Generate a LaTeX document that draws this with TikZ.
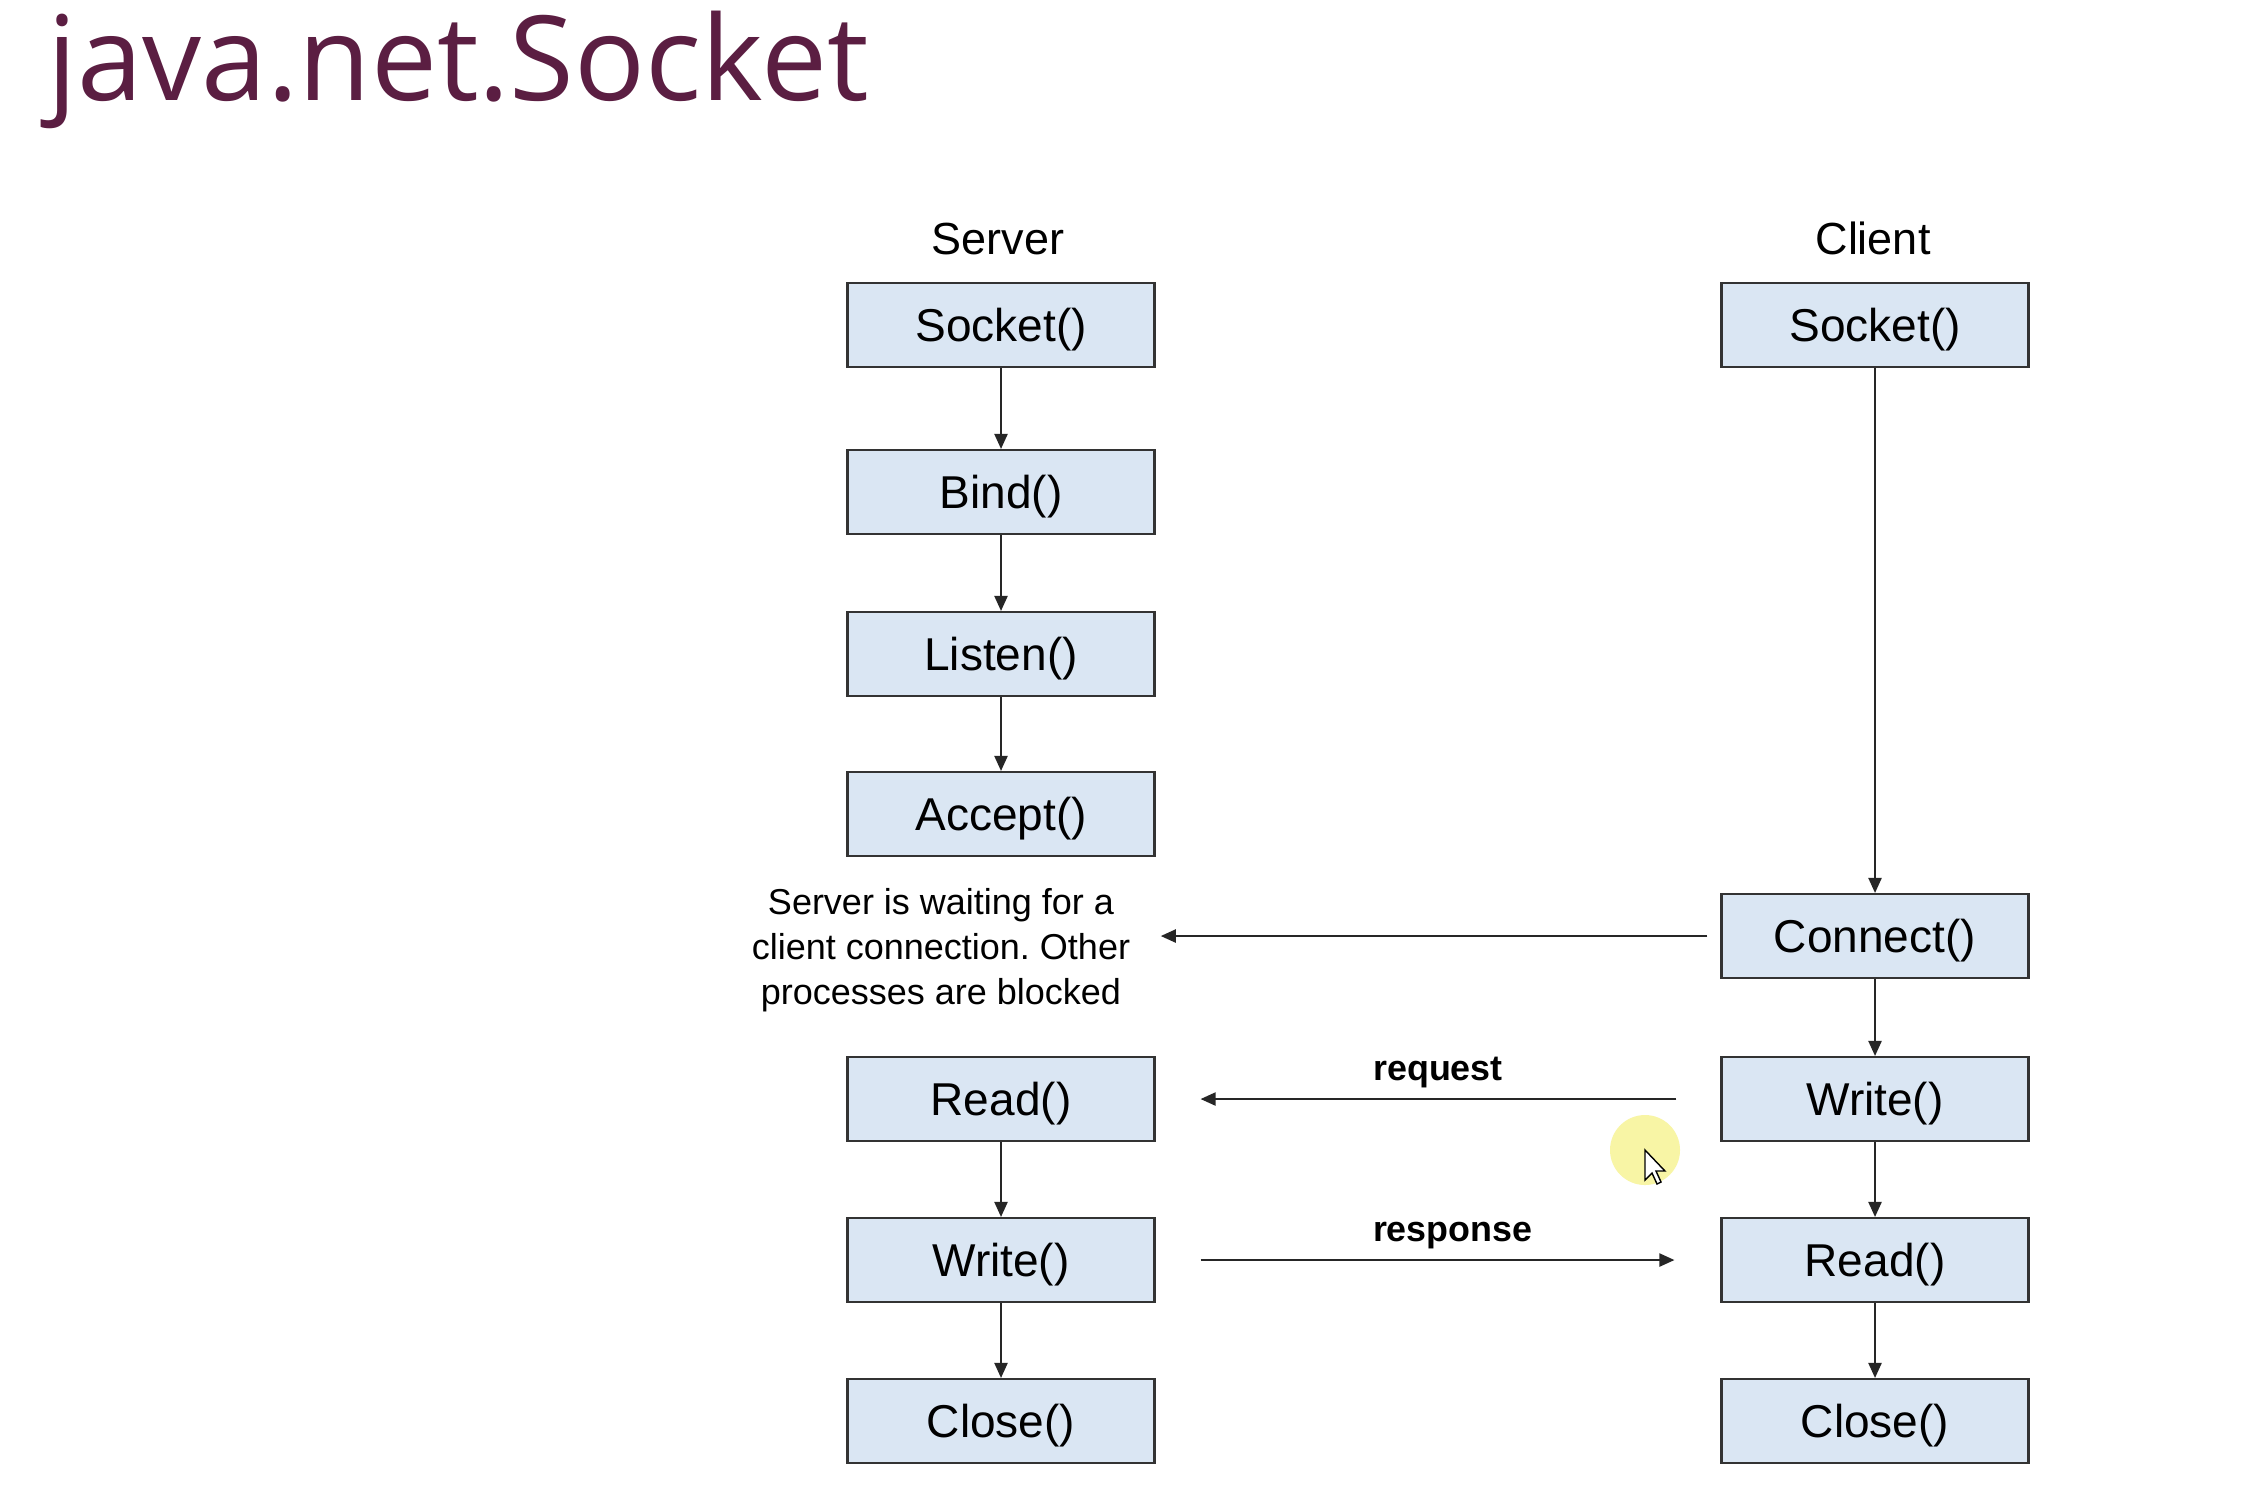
\documentclass[tikz,border=0pt]{standalone}
\usepackage{fontspec}
\setmainfont{Liberation Sans}
\newfontfamily\titlefont{Open Sans}
\usetikzlibrary{arrows.meta}
\frenchspacing
\definecolor{slidepurple}{RGB}{91,30,66}
\definecolor{callfill}{RGB}{218,230,243}
\definecolor{calledge}{RGB}{51,51,51}
\definecolor{pointerglow}{RGB}{248,245,165}
\tikzset{
  call/.style={draw=calledge, fill=callfill, line width=0.6pt, minimum width=3.07cm,
    minimum height=0.84cm, inner sep=0pt, text height=0.33cm, text depth=0pt,
    font=\fontsize{13.1pt}{15pt}\selectfont},
  flow/.style={draw=black!85, line width=0.6pt, -{Triangle[length=1.5mm,width=1.3mm]}},
  side/.style={anchor=base, inner sep=0pt, font=\fontsize{12.8pt}{15pt}\selectfont},
  msg/.style={anchor=base, inner sep=0pt, yshift=0.19cm, font=\bfseries\fontsize{10.2pt}{12pt}\selectfont}
}

\begin{document}
\begin{tikzpicture}%
   \fill[white] (0,0) rectangle (22.44,-14.88);
   \node[anchor=base west, inner sep=0pt, text=slidepurple, font=\titlefont\fontsize{33.5pt}{40pt}\selectfont] (title) at (0.47,-1.00) {java.net.Socket};
   \node[side] (server) at (9.98,-2.54) {Server};
   \node[side] (client) at (18.73,-2.54) {Client};
   \node[call] (ssocket) at (10.01,-3.25) {Socket()};
   \node[call] (sbind) at (10.01,-4.92) {Bind()};
   \node[call] (slisten) at (10.01,-6.54) {Listen()};
   \node[call] (saccept) at (10.01,-8.14) {Accept()};
   \node[call] (sread) at (10.01,-10.99) {Read()};
   \node[call] (swrite) at (10.01,-12.60) {Write()};
   \node[call] (sclose) at (10.01,-14.21) {Close()};
   \node[call] (csocket) at (18.75,-3.25) {Socket()};
   \node[call] (cconnect) at (18.75,-9.36) {Connect()};
   \node[call] (cwrite) at (18.75,-10.99) {Write()};
   \node[call] (cread) at (18.75,-12.60) {Read()};
   \node[call] (cclose) at (18.75,-14.21) {Close()};
   \node[align=center, inner sep=0pt, font=\fontsize{10.24pt}{12.8pt}\selectfont] (wait) at (9.41,-9.50) {Server is waiting for a\\client connection. Other\\processes are blocked};
   \draw[flow] (ssocket) -- (sbind);
   \draw[flow] (sbind) -- (slisten);
   \draw[flow] (slisten) -- (saccept);
   \draw[flow] (sread) -- (swrite);
   \draw[flow] (swrite) -- (sclose);
   \draw[flow] (csocket) -- (cconnect);
   \draw[flow] (cconnect) -- (cwrite);
   \draw[flow] (cwrite) -- (cread);
   \draw[flow] (cread) -- (cclose);
   \draw[flow, shorten <=0.13cm, shorten >=0.30cm] (cconnect.west) -- (cconnect.west -| wait.east);
   \draw[flow, shorten <=0.44cm, shorten >=0.45cm] (cwrite.west) -- (sread.east) node[msg, midway] {request};
   \draw[flow, shorten <=0.45cm, shorten >=0.46cm] (swrite.east) -- (cread.west) node[msg, pos=0.526] {response};
   \fill[pointerglow] (16.45,-11.50) circle(0.35);
   \draw[fill=white, line width=0.4pt] (16.45,-11.50) -- (16.45,-11.80) -- (16.52,-11.73) -- (16.57,-11.84) -- (16.61,-11.82) -- (16.56,-11.71) -- (16.65,-11.71) -- cycle;
\end{tikzpicture}
\end{document}
